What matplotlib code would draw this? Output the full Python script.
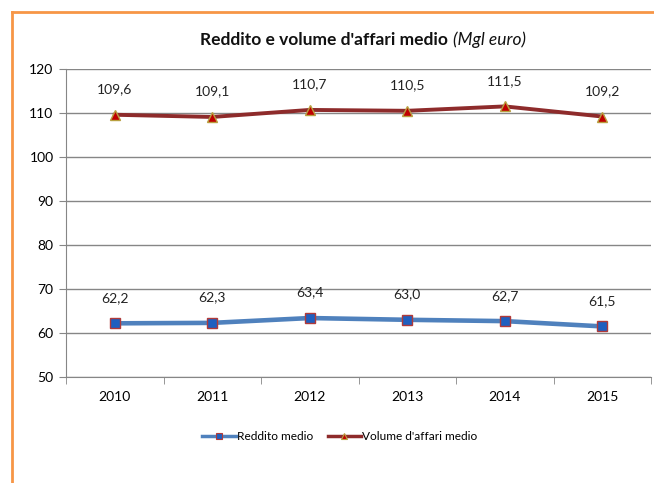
import matplotlib
matplotlib.use("Agg")
import matplotlib.pyplot as plt
from matplotlib.lines import Line2D

years = ["2010", "2011", "2012", "2013", "2014", "2015"]
reddito = [62.2, 62.3, 63.4, 63.0, 62.7, 61.5]
volume = [109.6, 109.1, 110.7, 110.5, 111.5, 109.2]
reddito_labels = ["62,2", "62,3", "63,4", "63,0", "62,7", "61,5"]
volume_labels = ["109,6", "109,1", "110,7", "110,5", "111,5", "109,2"]

plt.rcParams['font.family'] = ['Lato', 'DejaVu Sans']

fig = plt.figure(figsize=(6.54, 4.83), dpi=100)
fig.patch.set_facecolor('white')
ax = fig.add_axes([66/654, 1-377/483, (651-66)/654, (377-69)/483])

x = list(range(len(years)))
ax.plot(x, reddito, color='#4F81BD', lw=3.3, marker='s', ms=7.5,
        mfc='#1F5FBF', mec='#B03A3A', mew=1, zorder=3)
ax.plot(x, volume, color='#8E2B2B', lw=2.8, marker='^', ms=7,
        mfc='#C00000', mec='#B8A040', mew=1, zorder=3)

for xi, v, t in zip(x, reddito, reddito_labels):
    ax.annotate(t, (xi, v), xytext=(0, 14), textcoords='offset points',
                ha='center', va='bottom', fontsize=10, color='#222222')
for xi, v, t in zip(x, volume, volume_labels):
    ax.annotate(t, (xi, v), xytext=(0, 14), textcoords='offset points',
                ha='center', va='bottom', fontsize=10, color='#222222')

ax.set_xlim(-0.5, len(years) - 0.5)
ax.set_ylim(50, 120)
ax.set_yticks(range(50, 121, 10))
ax.set_xticks(x)
ax.set_xticklabels(years)
ax.set_xticks([i - 0.5 for i in range(len(years) + 1)], minor=True)
ax.tick_params(axis='x', which='major', length=0, pad=10, labelsize=10)
ax.tick_params(axis='x', which='minor', length=5, color='#868686')
ax.tick_params(axis='y', length=5, color='#868686', labelsize=10, pad=4)
ax.grid(axis='y', color='#868686', lw=1)
ax.set_axisbelow(True)
for s in ['top', 'right']:
    ax.spines[s].set_visible(False)
for s in ['left', 'bottom']:
    ax.spines[s].set_color('#868686')

t1 = fig.text(0.5, 1-40/483, "Reddito e volume d'affari medio ", ha='right', va='center',
              fontsize=12.5, fontweight='bold', color='#111111')
t2 = fig.text(0.5, 1-40/483, "(Mgl euro)", ha='left', va='center',
              fontsize=12.5, fontstyle='italic', color='#111111')
fig.canvas.draw()
r = fig.canvas.get_renderer()
w1 = t1.get_window_extent(r).width / 654
w2 = t2.get_window_extent(r).width / 654
cx = 363 / 654
start = cx - (w1 + w2) / 2
t1.set_x(start + w1)
t2.set_x(start + w1)

h1 = Line2D([], [], color='#4F81BD', lw=2.5, marker='s', ms=5, mfc='#1F5FBF', mec='#B03A3A', mew=0.8)
h2 = Line2D([], [], color='#8E2B2B', lw=2.5, marker='^', ms=5, mfc='#C00000', mec='#B8A040', mew=0.8)
fig.legend([h1, h2], ['Reddito medio', "Volume d'affari medio"], loc='center',
           bbox_to_anchor=(340/654, 1-437/483),
           ncol=2, frameon=False, fontsize=8.6, handlelength=2.8, columnspacing=1.2,
           handletextpad=0.1)

fig.add_artist(Line2D([12/654, 12/654], [0, 1-12/483], color='#F79646', lw=2, transform=fig.transFigure))
fig.add_artist(Line2D([12/654, 1], [1-12/483, 1-12/483], color='#F79646', lw=2, transform=fig.transFigure))

fig.savefig('out.png', dpi=100, facecolor='white')
